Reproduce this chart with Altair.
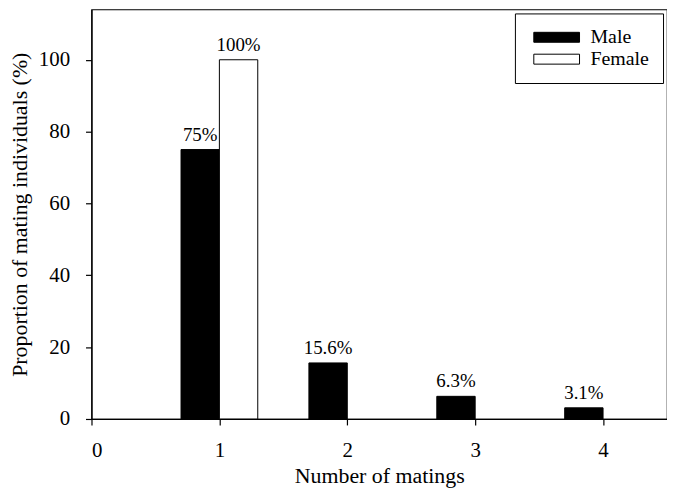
import altair as alt
import pandas as pd

matings = [1, 2, 3, 4]
male = [75, 15.6, 6.3, 3.1]
female = [100, 0, 0, 0]
male_labels = ["75%", "15.6%", "6.3%", "3.1%"]
female_labels = ["100%", "", "", ""]

rows = []
for n, v, lab in zip(matings, male, male_labels):
    rows.append({"n": n, "sex": "Male", "value": v, "label": lab})
for n, v, lab in zip(matings, female, female_labels):
    rows.append({"n": n, "sex": "Female", "value": v, "label": lab})
df = pd.DataFrame(rows)

FONT = "Liberation Serif"
BW = 0.3

base = alt.Chart(df).transform_filter("datum.value > 0").transform_calculate(
    x0=f"datum.sex == 'Male' ? datum.n - {BW} : datum.n",
    x1=f"datum.sex == 'Male' ? datum.n : datum.n + {BW}",
    xc=f"datum.sex == 'Male' ? datum.n - {BW/2} : datum.n + {BW/2}",
)

xscale = alt.Scale(domain=[0, 4.5], nice=False, zero=False)
yscale = alt.Scale(domain=[0, 114], nice=False)

bars = base.mark_rect(stroke="black", strokeWidth=1).encode(
    x=alt.X("x0:Q", scale=xscale,
            axis=alt.Axis(values=[0, 1, 2, 3, 4], title="Number of matings",
                          format="d", grid=False, tickSize=6, labelPadding=15,
                          titlePadding=5, titleFontSize=22)),
    x2="x1:Q",
    y=alt.Y("value:Q", scale=yscale,
            axis=alt.Axis(values=[0, 20, 40, 60, 80, 100],
                          title="Proportion of mating individuals (%)",
                          grid=False, tickSize=6, labelPadding=16,
                          titlePadding=7, titleFontSize=22)),
    y2=alt.datum(0),
    fill=alt.Fill("sex:N",
                  scale=alt.Scale(domain=["Male", "Female"], range=["black", "white"]),
                  legend=alt.Legend(title=None, orient="none", legendX=426, legendY=4,
                                    symbolType="M-1,-1H8.2V1H-1Z", symbolSize=100,
                                    symbolStrokeColor="black", symbolStrokeWidth=1,
                                    labelOffset=42, labelFont=FONT, labelFontSize=20,
                                    labelColor="black", rowPadding=2,
                                    strokeColor="black", padding=14)),
)

labels = base.mark_text(baseline="alphabetic", dy=-9, font=FONT, fontSize=19,
                        color="black").encode(
    x=alt.X("xc:Q", scale=xscale),
    y=alt.Y("value:Q", scale=yscale),
    text="label:N",
)

chart = alt.layer(bars, labels).properties(
    width=579, height=412,
    autosize=alt.AutoSizeParams(type="none"),
    padding={"left": 84, "top": 0, "right": 0, "bottom": 72},
).configure_view(stroke="black", strokeWidth=1.2).configure_axis(
    labelFont=FONT, titleFont=FONT, labelFontSize=21,
    labelColor="black", titleColor="black", domainColor="black", tickColor="black",
    titleFontWeight="normal", domainWidth=1.2, tickWidth=1.2,
)

chart.save("out.html", embed_options={"renderer": "svg", "actions": False})
